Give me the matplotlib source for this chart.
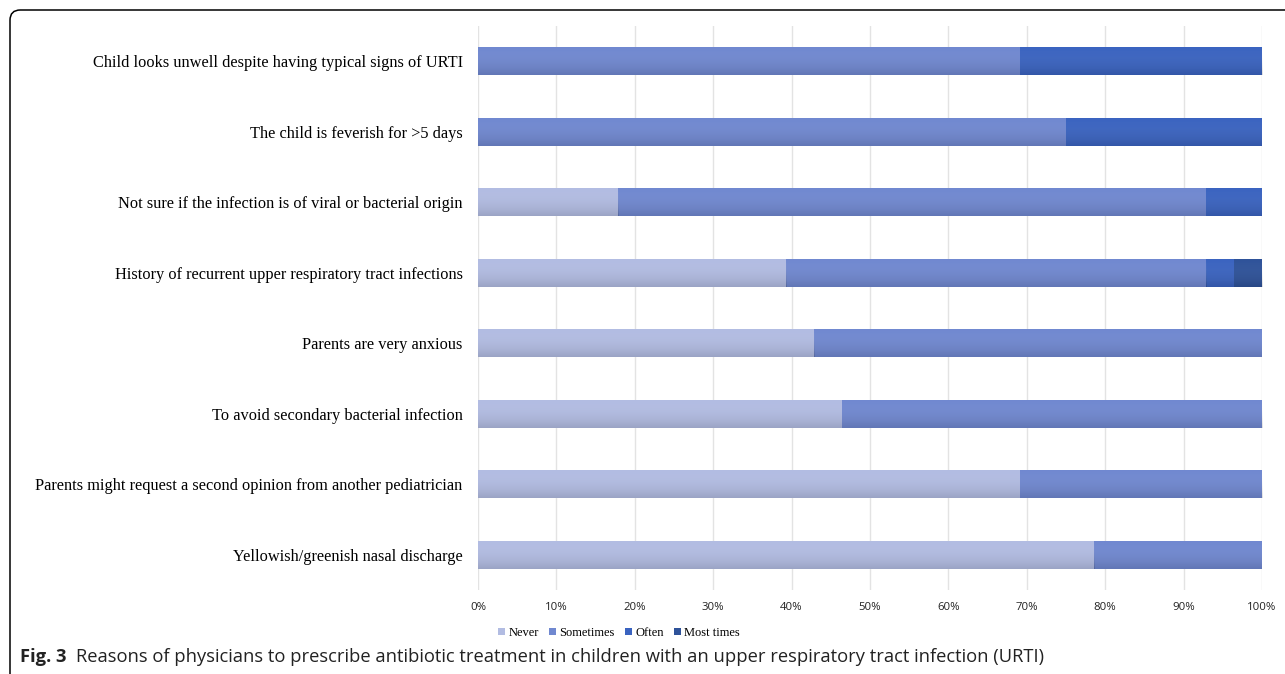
import numpy as np
import matplotlib
matplotlib.use("Agg")
import matplotlib.pyplot as plt
from matplotlib.patches import Patch, FancyBboxPatch

reasons = [
    "Child looks unwell despite having typical signs of URTI",
    "The child is feverish for >5 days",
    "Not sure if the infection is of viral or bacterial origin",
    "History of recurrent upper respiratory tract infections",
    "Parents are very anxious",
    "To avoid secondary bacterial infection",
    "Parents might request a second opinion from another pediatrician",
    "Yellowish/greenish nasal discharge",
]
answers = ["Never", "Sometimes", "Often", "Most times"]

# percentages
never = [0.0, 0.0, 17.9, 39.3, 42.9, 46.4, 69.1, 78.6]
sometimes = [69.1, 75.0, 75.0, 53.6, 57.1, 53.6, 30.9, 21.4]
often = [30.9, 25.0, 7.1, 3.5, 0.0, 0.0, 0.0, 0.0]
most_times = [0.0, 0.0, 0.0, 3.6, 0.0, 0.0, 0.0, 0.0]

colors = ["#b2bce2", "#7088d0", "#3a63c0", "#2e5299"]

fig = plt.figure(figsize=(12.85, 6.74), dpi=100)
ax = fig.add_axes([478 / 1285, 1 - 590 / 674, 784 / 1285, 564 / 674])

y = np.arange(len(reasons))
left = np.zeros(len(reasons))
grad = np.linspace(0, 1, 50).reshape(-1, 1)
for vals, col in zip([never, sometimes, often, most_times], colors):
    vals = np.array(vals)
    bars = ax.barh(y, vals, left=left, height=0.4, color=col, zorder=2)
    for b in bars:
        if b.get_width() <= 0:
            continue
        x0, y0 = b.get_x(), b.get_y()
        im = ax.imshow(grad, extent=[x0, x0 + b.get_width(), y0 + b.get_height(), y0],
                       cmap="Greys", vmin=0, vmax=1, alpha=0.13 * grad,
                       aspect="auto", zorder=3, interpolation="bilinear")
        im.set_clip_path(b)
    left += vals

ax.set_xlim(0, 100)
ax.set_ylim(len(reasons) - 0.5, -0.5)
ax.set_xticks(np.arange(0, 101, 10))
ax.set_xticklabels([f"{t}%" for t in range(0, 101, 10)], fontfamily="Open Sans",
                   fontsize=8.2, color="#222222")
ax.set_yticks(y)
ax.set_yticklabels(reasons, fontfamily="Liberation Serif", fontsize=11.8)
ax.tick_params(length=0, axis="both")
ax.tick_params(axis="y", pad=11)
ax.tick_params(axis="x", pad=9)
ax.grid(axis="x", color="#e3e3e3", linewidth=1, zorder=0)
ax.set_axisbelow(True)
for s in ax.spines.values():
    s.set_visible(False)

handles = [Patch(facecolor=c, edgecolor="none") for c in colors]
fig.legend(handles, answers, loc="center", bbox_to_anchor=(619 / 1285, 1 - 633 / 674),
           ncol=4, frameon=False, prop={"family": "Liberation Serif", "size": 9},
           handlelength=0.55, handleheight=0.55, handletextpad=0.3, columnspacing=0.8)

# rounded frame that runs off the right and bottom edges
frame = FancyBboxPatch((10 / 1285, -10 / 674), 1.1, 1,
                       boxstyle="round,pad=0,rounding_size=0.008",
                       transform=fig.transFigure, fill=False, edgecolor="black",
                       linewidth=1.1, mutation_aspect=1285 / 674)
fig.patches.append(frame)

t1 = fig.text(20 / 1285, 1 - 657 / 674, "Fig. 3", fontfamily="Open Sans",
              fontweight="bold", fontsize=13.2, color="#222222", va="center")
fig.canvas.draw()
bb = t1.get_window_extent()
fig.text((bb.x1 + 10) / 1285, 1 - 657 / 674,
         "Reasons of physicians to prescribe antibiotic treatment in children with an upper respiratory tract infection (URTI)",
         fontfamily="Open Sans", fontsize=13.2, color="#222222", va="center")

fig.savefig("out.png", dpi=100)
